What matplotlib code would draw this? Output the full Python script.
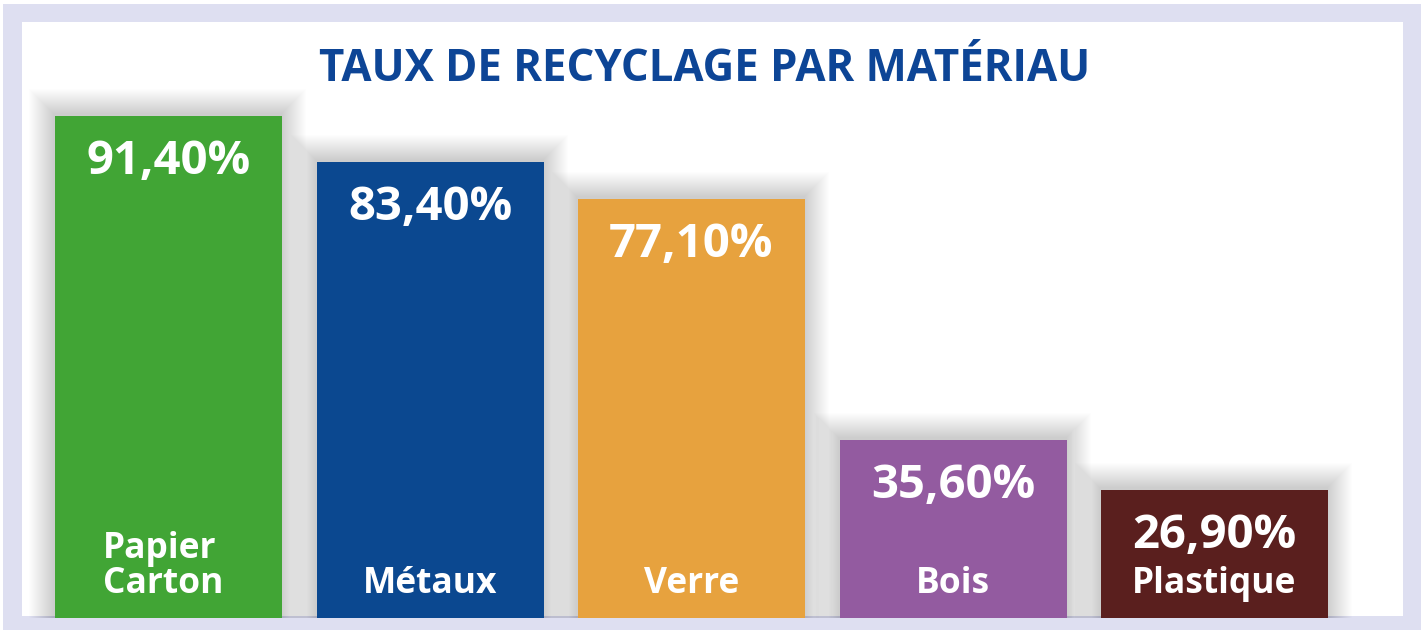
import matplotlib
matplotlib.use("Agg")
import matplotlib.pyplot as plt
from matplotlib.patches import Rectangle

categories = ["Papier\nCarton", "Métaux", "Verre", "Bois", "Plastique"]
values = [91.4, 83.4, 77.1, 35.6, 26.9]
value_labels = ["91,40%", "83,40%", "77,10%", "35,60%", "26,90%"]
colors = ["#41A535", "#0B4890", "#E7A23E", "#935BA0", "#5A1F1E"]
title = "TAUX DE RECYCLAGE PAR MATÉRIAU"

W, H = 1425, 630
DPI = 100
fig = plt.figure(figsize=(W / DPI, H / DPI), dpi=DPI)
fig.patch.set_facecolor("white")

lav = "#DEDFF1"
def fr(x0, y0, x1, y1, color):
    fig.patches.append(Rectangle((x0 / W, 1 - y1 / H), (x1 - x0) / W, (y1 - y0) / H,
                                 transform=fig.transFigure, color=color, zorder=0, lw=0))
fr(3, 4, 1421, 630, lav)
fr(22, 22, 1403, 616, "white")

bottom_px = 618
px_per_unit_y = 5.8
spacing = 261.5
first_center = 168.5
ax = fig.add_axes([0, (H - bottom_px) / H, 1, bottom_px / H])
ax.set_zorder(2)
ax.set_facecolor("none")
x0 = -first_center / spacing
x1 = (W - first_center) / spacing
ymin = 4.83
ymax = ymin + bottom_px / px_per_unit_y
ax.set_xlim(x0, x1)
ax.set_ylim(ymin, ymax)
ax.axis("off")

bw = 227 / spacing
xs = list(range(len(values)))

dx = 1 / spacing
dy = 1 / px_per_unit_y
for i, v in zip(xs, values):
    for k in range(1, 26):
        r = Rectangle((i - bw / 2 - k * dx - 1 * dx, 0), bw + 2 * k * dx, v + k * dy + 2 * dy,
                      facecolor="black", alpha=0.0075, lw=0, zorder=1)
        ax.add_patch(r)

ax.bar(xs, values, width=bw, color=colors, zorder=3, edgecolor="none")

font = "Open Sans"
for i, v, lab, cat in zip(xs, values, value_labels, categories):
    ax.annotate(lab, xy=(i, v), xytext=(0, -58 * 72 / DPI), textcoords="offset points",
                ha="center", va="baseline", color="white", fontsize=34,
                fontweight="bold", family=font, zorder=5)
    ax.annotate(cat, xy=(i, ymin), xytext=(-4 if "\n" in cat else 0, (bottom_px - 593) * 72 / DPI),
                textcoords="offset points", ha="center", va="baseline",
                multialignment="left",
                color="white", fontsize=25.5, fontweight="bold", family=font,
                linespacing=0.95, zorder=5)

fig.text(705 / W, 1 - 81 / H, title, ha="center", va="baseline", color="#0D4596",
         fontsize=31.5, fontweight="bold", family=font, zorder=3)

fig.savefig("out.png", dpi=DPI)
